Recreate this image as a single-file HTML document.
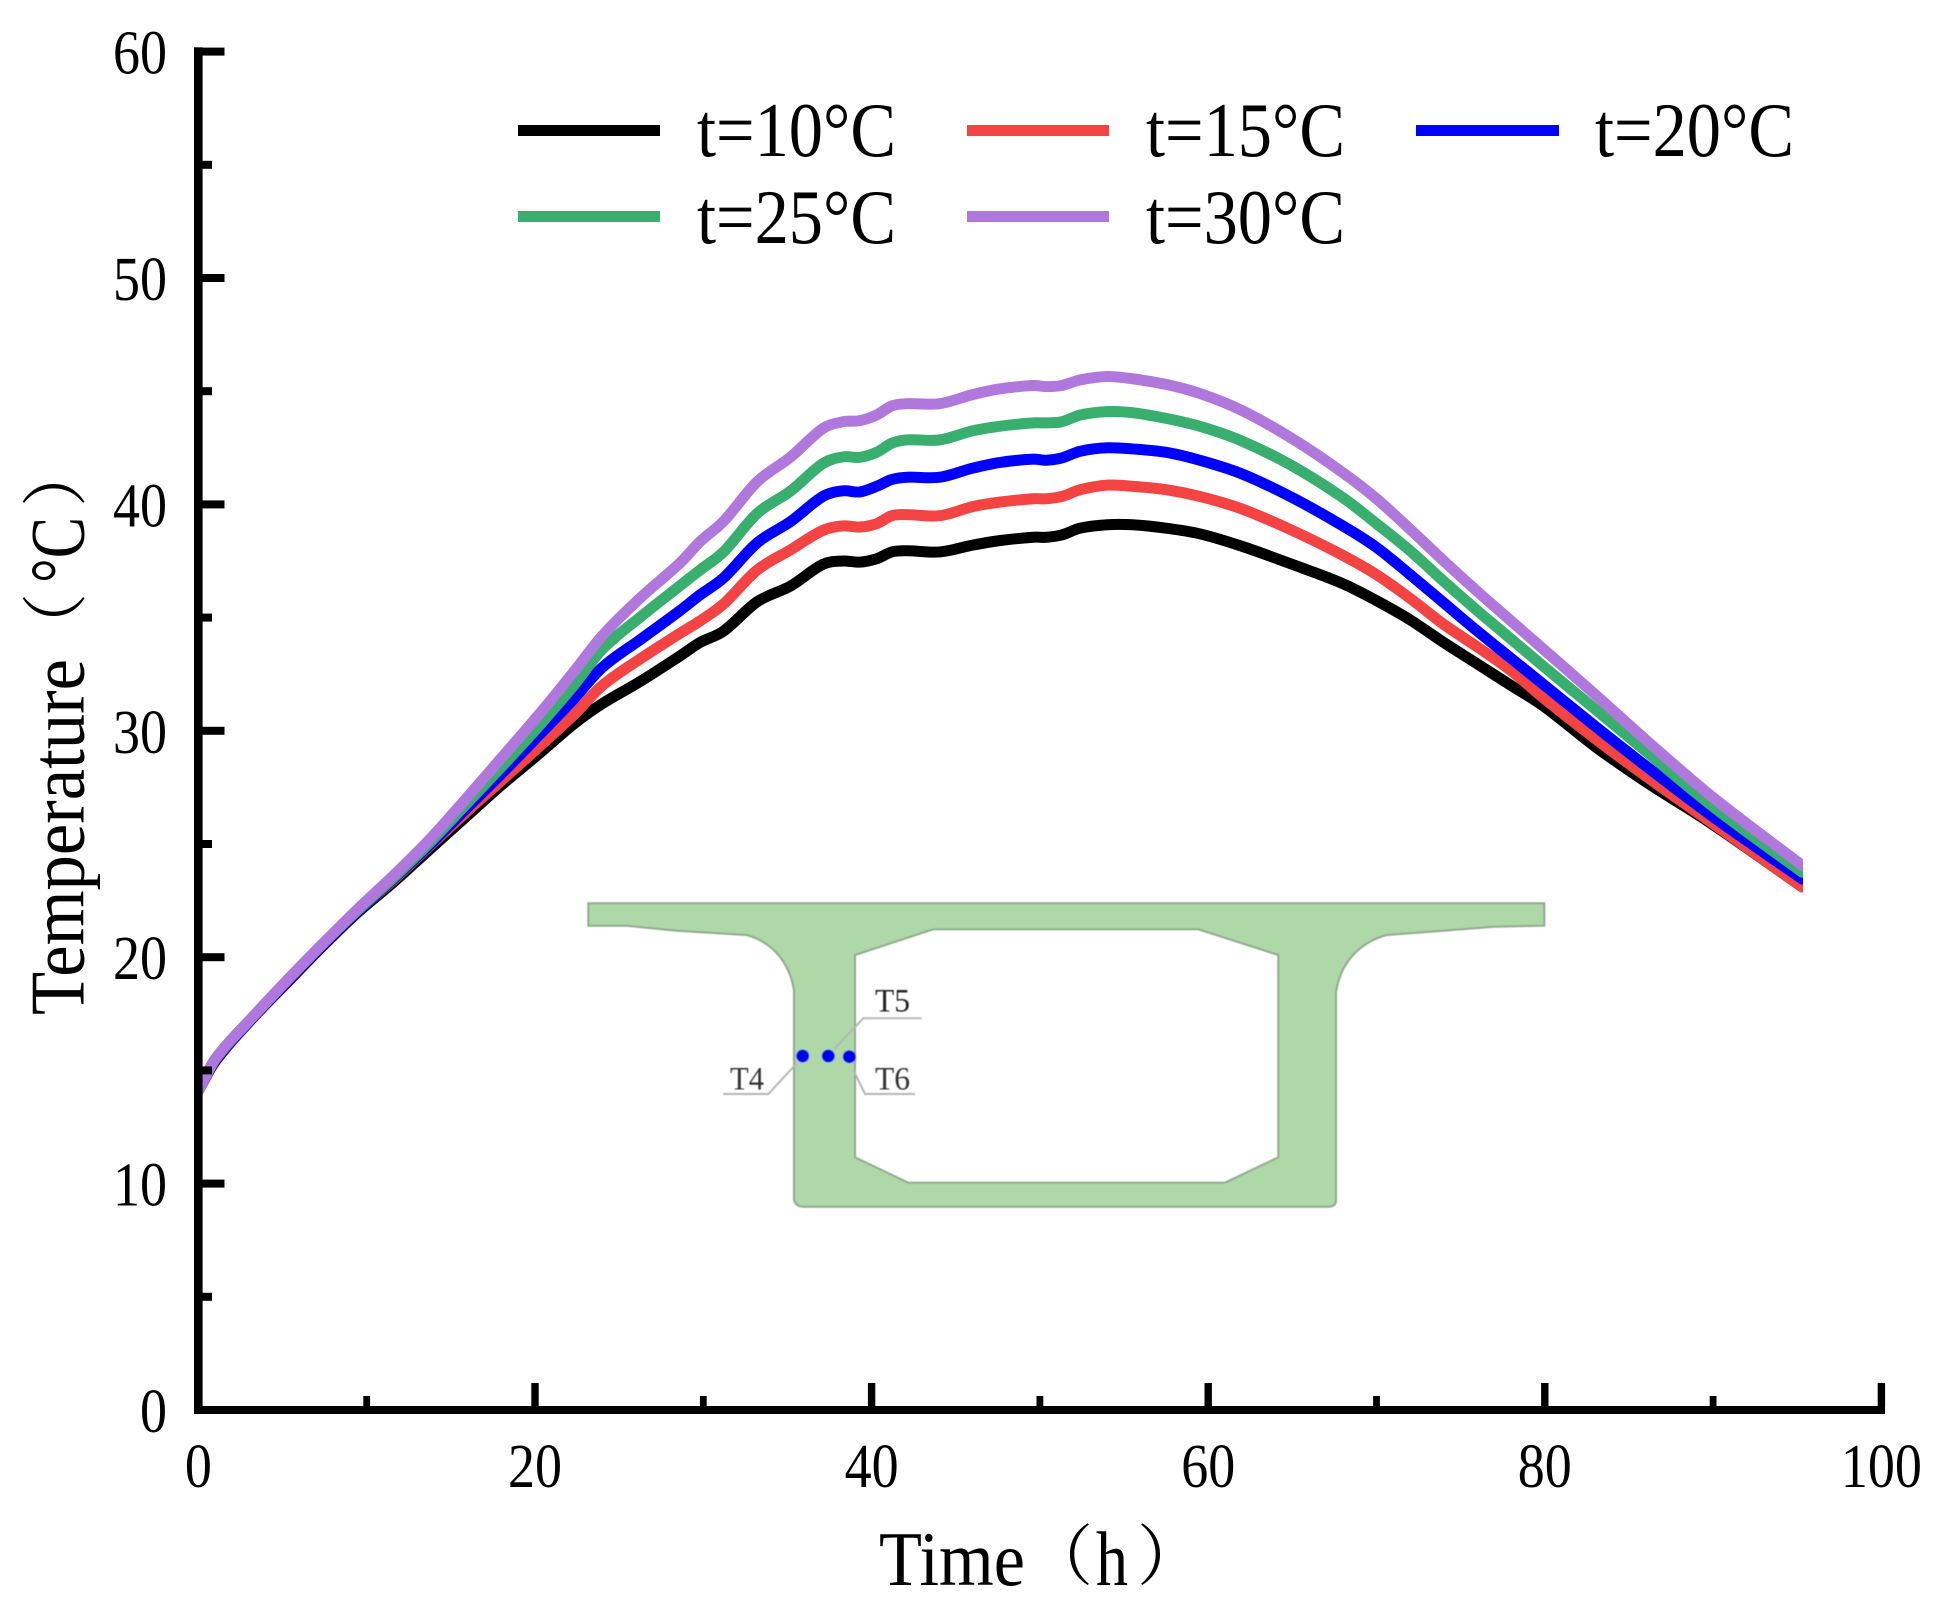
<!DOCTYPE html>
<html lang="en">
<head>
<meta charset="utf-8">
<title>Temperature vs Time</title>
<style>
html,body{margin:0;padding:0;background:#fff;}
svg{display:block;}
text{font-family:"Liberation Serif","Noto Serif CJK SC",serif;fill:#000;}
</style>
</head>
<body>
<svg id="chart" xmlns="http://www.w3.org/2000/svg" width="1944" height="1609" viewBox="0 0 1944 1609">
  <defs>
    <clipPath id="plot-clip"><rect x="197" y="40" width="1606" height="1370"/></clipPath>
    <filter id="soft" x="-2%" y="-2%" width="104%" height="104%"><feGaussianBlur stdDeviation="0.6"/></filter>
  </defs>
  <rect width="1944" height="1609" fill="#fff"/>

  <g id="section-inset" filter="url(#soft)">
    <path fill="#AFD8A9" stroke="#8FA98C" stroke-width="2" fill-rule="evenodd"
      d="M588.3 903.3H1544.3V925.7L1493.3 926.7L1443.3 930.7L1386.7 935C1368 940 1342 955 1336 991.7V1200Q1336 1206.7 1328.3 1206.7H803.3Q796 1206.7 794 1200V990C788 955 765 940 746.7 935L676.7 930.7L626.7 925.7H588.3Z
         M855 955L933.3 929.3H1198.3L1278.3 955V1157.3L1225 1182.7H908.3L855 1157.3Z"/>
    <polyline points="796.7,1063.3 768.3,1094 723.3,1094" fill="none" stroke="#b5b5b5" stroke-width="2"/>
    <polyline points="833.3,1050 863.3,1018.3 921.7,1018.3" fill="none" stroke="#b5b5b5" stroke-width="2"/>
    <polyline points="853.3,1070 865,1094 915,1094" fill="none" stroke="#b5b5b5" stroke-width="2"/>
    <circle cx="802.7" cy="1056" r="6.5" fill="#0000F0"/>
    <circle cx="828.3" cy="1056" r="6.5" fill="#0000F0"/>
    <circle cx="849.3" cy="1056.7" r="6.5" fill="#0000F0"/>
    <text x="730" y="1089.3" font-size="33" textLength="34" lengthAdjust="spacingAndGlyphs" style="fill:#333">T4</text>
    <text x="875" y="1011.7" font-size="33" textLength="35" lengthAdjust="spacingAndGlyphs" style="fill:#222">T5</text>
    <text x="875" y="1089.3" font-size="33" textLength="35" lengthAdjust="spacingAndGlyphs" style="fill:#333">T6</text>
  </g>

  <g id="series" clip-path="url(#plot-clip)"></g>
  <g id="axes"></g>

  <g>
    <rect x="518" y="125" width="142" height="11" fill="#000000"/>
    <text x="697" y="156" font-size="77" textLength="199" lengthAdjust="spacingAndGlyphs">t=10°C</text>
    <rect x="967" y="125" width="142" height="11" fill="#F44343"/>
    <text x="1146" y="156" font-size="77" textLength="199" lengthAdjust="spacingAndGlyphs">t=15°C</text>
    <rect x="1416" y="125" width="143" height="11" fill="#0000FF"/>
    <text x="1595" y="156" font-size="77" textLength="199" lengthAdjust="spacingAndGlyphs">t=20°C</text>
    <rect x="518" y="211" width="142" height="11" fill="#38AE6F"/>
    <text x="697" y="243" font-size="77" textLength="199" lengthAdjust="spacingAndGlyphs">t=25°C</text>
    <rect x="967" y="211" width="142" height="11" fill="#B078DC"/>
    <text x="1146" y="243" font-size="77" textLength="199" lengthAdjust="spacingAndGlyphs">t=30°C</text>
  </g>

  <g>
    <text x="879" y="1585" font-size="77" textLength="146" lengthAdjust="spacingAndGlyphs">Time</text>
    <text x="1027" y="1579" font-size="66">（</text>
    <text x="1096" y="1585" font-size="77" textLength="32" lengthAdjust="spacingAndGlyphs">h</text>
    <text x="1137" y="1579" font-size="66">）</text>
  </g>

  <g transform="translate(83.5,1015) rotate(-90)">
    <text x="0" y="0" font-size="77" textLength="356" lengthAdjust="spacingAndGlyphs">Temperature</text>
    <text x="356" y="-5" font-size="66">（</text>
    <text x="432" y="0" font-size="77" textLength="66" lengthAdjust="spacingAndGlyphs">°C</text>
    <text x="508" y="-5" font-size="66">）</text>
  </g>
</svg>

<script>
const hours = [0,1,3.15,5.3,7.4,9.5,11.65,13.8,15.9,18,20.1,22.3,24,26.3,28.6,29.8,31.2,33.2,35.2,37.1,38.3,39.3,40.3,41.2,42.1,44.05,46,47.6,49.6,50.4,51.3,52.4,54,55.5,57.5,59.5,62,65,68,70,72,74,76,78,80,83,86,90,95.3];
const t10 = [14.1,15.4,17.25,18.9,20.5,22,23.35,24.8,26.2,27.6,28.9,30.3,31.2,32.2,33.3,33.9,34.4,35.7,36.4,37.35,37.5,37.45,37.6,37.9,37.95,37.9,38.2,38.4,38.55,38.55,38.65,38.95,39.1,39.1,38.95,38.7,38.15,37.35,36.5,35.75,34.9,33.9,32.95,32,31.05,29.3,27.75,25.85,23.1];
const t15 = [14.1,15.45,17.25,18.95,20.55,22.05,23.45,24.95,26.4,27.8,29.2,30.7,32,33.2,34.3,34.85,35.6,37.1,38,38.85,39.05,39,39.15,39.5,39.55,39.5,39.9,40.1,40.25,40.25,40.35,40.65,40.85,40.8,40.65,40.35,39.8,38.85,37.75,36.9,35.85,34.7,33.7,32.65,31.4,29.65,28,25.9,23.1];
const t20 = [14.1,15.45,17.25,18.95,20.55,22.05,23.5,25,26.55,28.1,29.7,31.4,32.8,34.05,35.3,36,36.75,38.3,39.25,40.35,40.6,40.55,40.8,41.1,41.2,41.2,41.6,41.85,42,41.95,42.05,42.35,42.5,42.45,42.3,41.95,41.35,40.3,39.05,38.1,36.9,35.65,34.4,33.2,32,30.2,28.45,26.2,23.45];
const t25 = [14.1,15.5,17.3,19,20.6,22.1,23.55,25.1,26.75,28.4,30.1,32,33.6,35.05,36.4,37.1,37.9,39.6,40.6,41.8,42.1,42.08,42.3,42.7,42.85,42.85,43.25,43.45,43.6,43.6,43.65,43.95,44.1,44.05,43.8,43.45,42.8,41.7,40.3,39.15,37.95,36.6,35.3,34.05,32.8,30.95,29.1,26.65,23.75];
const t30 = [14.1,15.5,17.3,19,20.6,22.15,23.65,25.25,27,28.8,30.6,32.6,34.2,35.9,37.4,38.35,39.25,41,42.1,43.35,43.65,43.7,43.95,44.35,44.45,44.45,44.85,45.1,45.25,45.2,45.25,45.5,45.65,45.55,45.3,44.9,44.15,42.9,41.4,40.25,38.9,37.5,36.15,34.85,33.55,31.6,29.6,27.05,24.05];
const xMajorTicks = [0,20,40,60,80,100];
const xMinorTicks = [10,30,50,70,90];
const yMajorTicks = [0,10,20,30,40,50,60];
const yMinorTicks = [5,15,25,35,45,55];

const NS = 'http://www.w3.org/2000/svg';
const X0 = 198.4, XK = 16.83, Y0 = 1410, YK = 22.64;
const xScale = v => X0 + v * XK;
const yScale = v => Y0 - v * YK;

function make(tag, attrs, parent) {
  const el = document.createElementNS(NS, tag);
  for (const k in attrs) el.setAttribute(k, attrs[k]);
  parent.appendChild(el);
  return el;
}

function smoothPath(xs, ys) {
  const pts = xs.map((x, i) => [xScale(x), yScale(ys[i])]);
  let d = 'M' + pts[0][0].toFixed(2) + ' ' + pts[0][1].toFixed(2);
  for (let i = 0; i < pts.length - 1; i++) {
    const p0 = pts[Math.max(i - 1, 0)], p1 = pts[i], p2 = pts[i + 1], p3 = pts[Math.min(i + 2, pts.length - 1)];
    const h = p2[0] - p1[0];
    const s1 = (p2[1] - p0[1]) / ((p2[0] - p0[0]) || 1);
    const s2 = (p3[1] - p1[1]) / ((p3[0] - p1[0]) || 1);
    d += 'C' + (p1[0] + h / 3).toFixed(2) + ' ' + (p1[1] + s1 * h / 3).toFixed(2) + ' ' +
         (p2[0] - h / 3).toFixed(2) + ' ' + (p2[1] - s2 * h / 3).toFixed(2) + ' ' +
         p2[0].toFixed(2) + ' ' + p2[1].toFixed(2);
  }
  return d;
}

const seriesGroup = document.getElementById('series');
[[t10, '#000000', 'line-t10'], [t15, '#F44343', 'line-t15'], [t20, '#0000FF', 'line-t20'], [t25, '#38AE6F', 'line-t25'], [t30, '#B078DC', 'line-t30']].forEach(function (s) {
  const line = make('path', { d: smoothPath(hours, s[0]), fill: 'none', stroke: s[1], 'stroke-width': 11, 'stroke-linejoin': 'round', 'stroke-linecap': 'round' }, seriesGroup);
  
  
});

const axes = document.getElementById('axes');
const yLine = make('rect', { x: 194, y: 47.3, width: 8.6, height: 1366.7, fill: '#000' }, axes);


const xLine = make('rect', { x: 194, y: 1406, width: 1691, height: 8, fill: '#000' }, axes);



yMajorTicks.forEach(function (v) {
  const tick = make('rect', { x: 202, y: yScale(v) - 4, width: 22.5, height: 8, fill: '#000' }, axes);
  
  
  const label = make('text', { x: 167, y: yScale(v) + 22, 'font-size': 62, 'text-anchor': 'end', textLength: String(v).length * 27, lengthAdjust: 'spacingAndGlyphs' }, axes);
  label.textContent = String(v);
  
  
});
yMinorTicks.forEach(function (v) {
  const tick = make('rect', { x: 202, y: yScale(v) - 4, width: 10, height: 8, fill: '#000' }, axes);
  
  
});
xMajorTicks.forEach(function (v) {
  const tick = make('rect', { x: xScale(v) - 3.7, y: 1383, width: 7.4, height: 24, fill: '#000' }, axes);
  
  
  const label = make('text', { x: xScale(v), y: 1487, 'font-size': 62, 'text-anchor': 'middle', textLength: String(v).length * 27, lengthAdjust: 'spacingAndGlyphs' }, axes);
  label.textContent = String(v);
  
  
});
xMinorTicks.forEach(function (v) {
  const tick = make('rect', { x: xScale(v) - 3.4, y: 1396, width: 6.8, height: 11, fill: '#000' }, axes);
  
  
});
</script>
</body>
</html>
